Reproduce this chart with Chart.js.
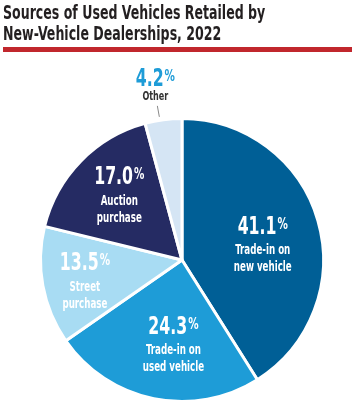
<!DOCTYPE html>
<html>
<head>
<meta charset="utf-8">
<script src="https://cdn.jsdelivr.net/npm/chart.js@4"></script>
<style>
  html, body { margin: 0; padding: 0; background: #fff; }
  #wrap { position: relative; width: 352px; height: 404px; overflow: hidden; }
  #title {
    position: absolute; left: 3px; top: 2px;
    font: bold 19px 'DejaVu Sans Condensed', 'DejaVu Sans', sans-serif;
    line-height: 21px; color: #231f20; white-space: nowrap;
    transform: scaleX(0.736); transform-origin: left top;
  }
  #rule { position: absolute; left: 3px; right: 0; top: 47px; height: 5px; background: #c1272d; }
  #chart { position: absolute; left: 0; top: 0; }
</style>
</head>
<body>
<div id="wrap">
  <canvas id="chart" width="352" height="404"></canvas>
  <div id="title">Sources of Used Vehicles Retailed by<br>New-Vehicle Dealerships, 2022</div>
  <div id="rule"></div>
</div>
<script>
const categories = ['Trade-in on new vehicle', 'Trade-in on used vehicle', 'Street purchase', 'Auction purchase', 'Other'];
const labelLines = [['Trade-in on', 'new vehicle'], ['Trade-in on', 'used vehicle'], ['Street', 'purchase'], ['Auction', 'purchase'], ['Other']];
const shares = [41.1, 24.3, 13.5, 17.0, 4.2];
const sliceColors = ['#005f96', '#1e9cd7', '#a8dcf3', '#252b63', '#d5e5f4'];

// label placement: [degrees clockwise from top, fraction of radius]
const labelPlace = [[72, 0.6], [186.6, 0.525], [264, 0.69], [320.4, 0.695], [351.3, 1.245]];

const FONT = "'DejaVu Sans Condensed', 'DejaVu Sans', sans-serif";

function squeezed(ctx, text, x, y, s) {
  ctx.save();
  ctx.translate(x, y);
  ctx.scale(s, 1);
  ctx.fillText(text, 0, 0);
  ctx.restore();
}

const sliceLabels = {
  id: 'sliceLabels',
  afterDatasetsDraw(chart) {
    const ctx = chart.ctx;
    const arcs = chart.getDatasetMeta(0).data;
    arcs.forEach((arc, i) => {
      const r = arc.outerRadius;
      const a = labelPlace[i][0] * Math.PI / 180;
      const x = arc.x + Math.sin(a) * r * labelPlace[i][1];
      const y = arc.y - Math.cos(a) * r * labelPlace[i][1];
      const outside = labelPlace[i][1] > 1;
      const numColor = outside ? '#1e9cd7' : '#fff';
      const txtColor = outside ? '#333' : '#fff';

      const num = shares[i].toFixed(1);
      ctx.save();
      ctx.font = 'bold 25px ' + FONT;
      const wNum = ctx.measureText(num).width * 0.7;
      ctx.font = 'bold 16px ' + FONT;
      const wPct = ctx.measureText('%').width * 0.72;
      const start = x - (wNum + 1 + wPct) / 2;
      ctx.textAlign = 'left';
      ctx.textBaseline = 'alphabetic';
      ctx.fillStyle = numColor;
      ctx.font = 'bold 25px ' + FONT;
      squeezed(ctx, num, start, y, 0.7);
      ctx.font = 'bold 16px ' + FONT;
      squeezed(ctx, '%', start + wNum + 1, y - 5, 0.72);

      ctx.font = 'bold ' + (outside ? 13 : 14) + 'px ' + FONT;
      ctx.textAlign = 'center';
      ctx.textBaseline = 'middle';
      ctx.fillStyle = txtColor;
      labelLines[i].forEach((ln, k) => {
        squeezed(ctx, ln, x, y + (outside ? 11 : 17 + k * 17), 0.69);
      });

      if (outside) {
        // leader line down to the slice
        ctx.strokeStyle = '#888';
        ctx.lineWidth = 1;
        ctx.beginPath();
        ctx.moveTo(x + 2, y + 20);
        ctx.lineTo(x + 4, y + 31);
        ctx.stroke();
      }
      ctx.restore();
    });
  }
};

new Chart(document.getElementById('chart').getContext('2d'), {
  type: 'pie',
  data: {
    labels: categories,
    datasets: [{
      data: shares,
      backgroundColor: sliceColors,
      borderColor: '#fff',
      borderWidth: 3
    }]
  },
  options: {
    responsive: false,
    animation: false,
    layout: { padding: { left: 39, right: 27, top: 117, bottom: 1 } },
    plugins: {
      legend: { display: false },
      tooltip: { enabled: false },
      title: { display: false }
    }
  },
  plugins: [sliceLabels]
});
</script>
</body>
</html>
